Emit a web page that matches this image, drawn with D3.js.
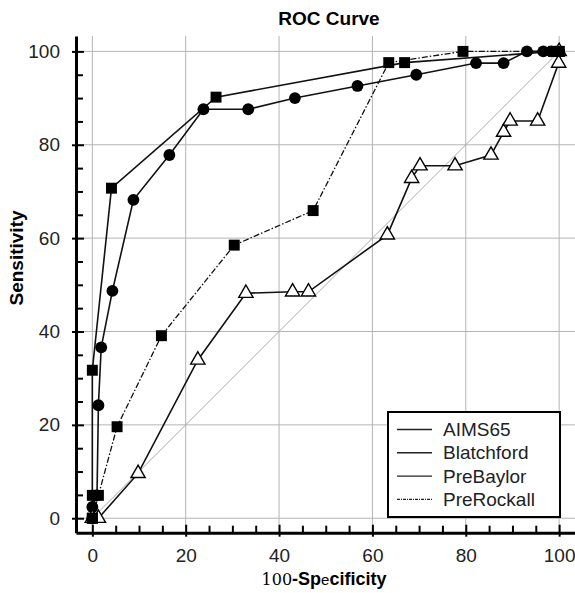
<!DOCTYPE html>
<html lang="en">
  <head>
    <meta charset="UTF-8" />
    <title>ROC Curve</title>
    <script src="https://d3js.org/d3.v7.min.js"></script>
    <style>
      body { margin: 0; background: #fff; }
      text { font-family: Arial, "Liberation Sans", sans-serif; }
    </style>
  </head>
  <body>
    <div id="chart"></div>
    <script>
      // values (100-specificity, sensitivity)
      const aimsX = [0, 0, 1.0, 1.3, 1.9, 4.3, 8.8, 16.5, 23.8, 33.4, 43.4, 56.8, 69.4, 82.2, 88.1, 93.1, 96.6, 98.3, 100];
      const aimsY = [0, 2.4, 4.9, 24.2, 36.6, 48.7, 68.2, 77.8, 87.6, 87.6, 90.0, 92.6, 95.0, 97.5, 97.5, 100, 100, 100, 100];

      const blatchX = [0, 0, 0, 4.1, 26.5, 66.9, 98.8, 100];
      const blatchY = [0, 4.9, 31.7, 70.7, 90.2, 97.6, 100, 100];

      const baylorX = [0, 1.3, 9.8, 22.6, 32.9, 42.9, 46.3, 63.2, 68.4, 70.2, 77.7, 85.4, 88.1, 89.5, 95.4, 99.9, 100];
      const baylorY = [0, 0, 9.6, 33.9, 48.2, 48.5, 48.5, 60.7, 72.8, 75.5, 75.5, 77.8, 82.7, 85.1, 85.1, 97.5, 100];

      const rockallX = [0, 1.3, 5.3, 14.8, 30.4, 47.3, 63.5, 79.4, 100];
      const rockallY = [0, 4.9, 19.6, 39.1, 58.5, 65.9, 97.6, 100, 100];

      const legendNames = ["AIMS65", "Blatchford", "PreBaylor", "PreRockall"];
      const majorTicks = [0, 20, 40, 60, 80, 100];
      const minorTicks = d3.range(0, 101, 5).filter(v => v % 20 !== 0);

      const width = 575, height = 593;
      const plotLeft = 76, plotRight = 575, plotTop = 36, plotBottom = 532.7;

      const svg = d3.select("#chart").append("svg")
        .attr("width", width)
        .attr("height", height);

      const x = d3.scaleLinear().domain([-3.5, 103.4]).range([plotLeft, plotRight]);
      const y = d3.scaleLinear().domain([-3.1, 103.3]).range([plotBottom, plotTop]);

      // grid
      svg.append("g").selectAll("line").data(majorTicks).enter().append("line")
        .attr("x1", d => x(d)).attr("x2", d => x(d))
        .attr("y1", plotTop).attr("y2", plotBottom)
        .attr("stroke", "#b4b4b4").attr("stroke-width", 1);
      svg.append("g").selectAll("line").data(majorTicks).enter().append("line")
        .attr("y1", d => y(d)).attr("y2", d => y(d))
        .attr("x1", plotLeft).attr("x2", plotRight)
        .attr("stroke", "#b4b4b4").attr("stroke-width", 1);

      // reference diagonal
      svg.append("line")
        .attr("x1", x(0)).attr("y1", y(0))
        .attr("x2", x(100)).attr("y2", y(100))
        .attr("stroke", "#aaa").attr("stroke-width", 1);

      function pts(xs, ys) {
        return xs.map((v, i) => [v, ys[i]]);
      }
      const line = d3.line().x(d => x(d[0])).y(d => y(d[1]));

      const series = [
        { data: pts(aimsX, aimsY), marker: "circle", dash: null },
        { data: pts(baylorX, baylorY), marker: "triangle", dash: null },
        { data: pts(rockallX, rockallY), marker: "square", dash: "6,2,1.5,2" },
        { data: pts(blatchX, blatchY), marker: "square", dash: null },
      ];

      series.forEach(s => {
        svg.append("path")
          .datum(s.data)
          .attr("d", line)
          .attr("fill", "none")
          .attr("stroke", "#111")
          .attr("stroke-width", s.dash ? 1.3 : 1.6)
          .attr("stroke-dasharray", s.dash);
      });

      const sym = {
        circle: d3.symbol().type(d3.symbolCircle).size(110),
        square: d3.symbol().type(d3.symbolSquare).size(120),
        triangle: d3.symbol().type(d3.symbolTriangle).size(88),
      };

      series.forEach(s => {
        svg.append("g").selectAll("path").data(s.data).enter().append("path")
          .attr("d", sym[s.marker])
          .attr("transform", d => `translate(${x(d[0])},${y(d[1])})`)
          .attr("fill", s.marker === "triangle" ? "#fff" : "#000")
          .attr("stroke", "#000")
          .attr("stroke-width", s.marker === "triangle" ? 1.4 : 0);
      });

      // axes
      const yAxis = svg.append("g")
        .attr("transform", `translate(${plotLeft},0)`)
        .call(d3.axisLeft(y).tickValues(majorTicks).tickSizeInner(-8).tickSizeOuter(0).tickPadding(16));
      const xAxis = svg.append("g")
        .attr("transform", `translate(0,${plotBottom})`)
        .call(d3.axisBottom(x).tickValues(majorTicks).tickSizeInner(-8).tickSizeOuter(0).tickPadding(16));

      [yAxis, xAxis].forEach(a => {
        a.select(".domain").attr("stroke", "#000").attr("stroke-width", 3);
        a.selectAll(".tick line").attr("stroke", "#000").attr("stroke-width", 2);
        a.selectAll(".tick text")
          .attr("fill", "#222")
          .style("font-size", "19px")
          .style("font-family", "Arial, 'Liberation Sans', sans-serif");
      });
      // outer part of major ticks
      yAxis.selectAll(".tick").append("line")
        .attr("x1", 0).attr("x2", -4).attr("stroke", "#000").attr("stroke-width", 2);
      xAxis.selectAll(".tick").append("line")
        .attr("y1", 0).attr("y2", 4).attr("stroke", "#000").attr("stroke-width", 2);

      svg.append("g")
        .attr("transform", `translate(${plotLeft},0)`)
        .call(d3.axisLeft(y).tickValues(minorTicks).tickSize(-7).tickFormat(""))
        .call(g => g.select(".domain").remove())
        .selectAll("line").attr("stroke", "#000").attr("stroke-width", 2);
      svg.append("g")
        .attr("transform", `translate(0,${plotBottom})`)
        .call(d3.axisBottom(x).tickValues(minorTicks).tickSize(-7).tickFormat(""))
        .call(g => g.select(".domain").remove())
        .selectAll("line").attr("stroke", "#000").attr("stroke-width", 2);

      // title and axis labels
      svg.append("text")
        .attr("x", 329).attr("y", 25)
        .attr("text-anchor", "middle")
        .style("font-size", "19px").style("font-weight", "bold")
        .text("ROC Curve");

      svg.append("text")
        .attr("transform", "translate(23,258) rotate(-90)")
        .attr("text-anchor", "middle")
        .style("font-size", "19px").style("font-weight", "bold")
        .text("Sensitivity");

      const xl = svg.append("text")
        .attr("x", 324).attr("y", 585)
        .attr("text-anchor", "middle")
        .style("font-size", "18px");
      xl.append("tspan").style("font-family", "'DejaVu Serif', serif").style("font-size", "16px").text("100");
      xl.append("tspan").style("font-weight", "bold").text("-Sp");
      xl.append("tspan").style("font-size", "15px").text("e");
      xl.append("tspan").style("font-weight", "bold").text("cificity");

      // legend
      const lg = svg.append("g");
      lg.append("rect")
        .attr("x", 388).attr("y", 412)
        .attr("width", 172).attr("height", 105)
        .attr("fill", "#fff").attr("stroke", "#000").attr("stroke-width", 2);
      const rows = lg.selectAll("g").data(legendNames).enter().append("g")
        .attr("transform", (d, i) => `translate(0,${429.5 + i * 23.3})`);
      rows.append("line")
        .attr("x1", 397).attr("x2", 432)
        .attr("stroke", "#222").attr("stroke-width", 1.4)
        .attr("stroke-dasharray", (d, i) => i === 3 ? "3,1,1,1" : null);
      rows.append("text")
        .attr("x", 443).attr("dy", "0.35em")
        .attr("fill", "#222")
        .style("font-size", "19px")
        .text(d => d);
    </script>
  </body>
</html>
